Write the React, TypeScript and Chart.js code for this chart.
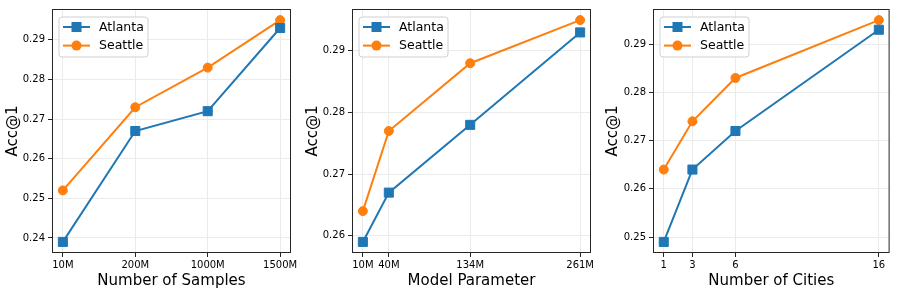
import React, { useEffect, useRef } from "react";
import { Chart, registerables } from "chart.js";

Chart.register(...registerables);

// ---- data ----
const seriesNames = ["Atlanta", "Seattle"];

const samplesLabels = ["10M", "200M", "1000M", "1500M"];
const samplesX = [0, 1, 2, 3];
const samplesAtlanta = [0.239, 0.267, 0.272, 0.293];
const samplesSeattle = [0.252, 0.273, 0.283, 0.295];
const samplesYTicks = [0.24, 0.25, 0.26, 0.27, 0.28, 0.29];

const paramLabels = ["10M", "40M", "134M", "261M"];
const paramX = [10, 40, 134, 261];
const paramAtlanta = [0.259, 0.267, 0.278, 0.293];
const paramSeattle = [0.264, 0.277, 0.288, 0.295];
const paramYTicks = [0.26, 0.27, 0.28, 0.29];

const citiesLabels = ["1", "3", "6", "16"];
const citiesX = [1, 3, 6, 16];
const citiesAtlanta = [0.249, 0.264, 0.272, 0.293];
const citiesSeattle = [0.264, 0.274, 0.283, 0.295];
const citiesYTicks = [0.25, 0.26, 0.27, 0.28, 0.29];

const BLUE = "#1f77b4";
const ORANGE = "#ff7f0e";
const FONT = "'DejaVu Sans', sans-serif";

function margin(vals: number[]) {
  const lo = Math.min(...vals);
  const hi = Math.max(...vals);
  const m = (hi - lo) * 0.05;
  return [lo - m, hi + m];
}

const framePlugin = {
  id: "frameLegend",
  afterDraw(chart: any) {
    const { ctx, chartArea } = chart;
    const { left, top, right, bottom } = chartArea;
    ctx.save();
    ctx.strokeStyle = "#262626";
    ctx.lineWidth = 1;
    ctx.strokeRect(left + 0.5, top + 0.5, right - left - 1, bottom - top - 1);

    // legend
    const bx = left + 7;
    const by = top + 8;
    const bw = 89;
    const bh = 40;
    const r = 3;
    ctx.beginPath();
    ctx.moveTo(bx + r, by);
    ctx.lineTo(bx + bw - r, by);
    ctx.quadraticCurveTo(bx + bw, by, bx + bw, by + r);
    ctx.lineTo(bx + bw, by + bh - r);
    ctx.quadraticCurveTo(bx + bw, by + bh, bx + bw - r, by + bh);
    ctx.lineTo(bx + r, by + bh);
    ctx.quadraticCurveTo(bx, by + bh, bx, by + bh - r);
    ctx.lineTo(bx, by + r);
    ctx.quadraticCurveTo(bx, by, bx + r, by);
    ctx.closePath();
    ctx.fillStyle = "rgba(255,255,255,0.8)";
    ctx.fill();
    ctx.strokeStyle = "#d0d0d0";
    ctx.stroke();

    chart.data.datasets.forEach((ds: any, i: number) => {
      const y = by + 10 + i * 18.6;
      ctx.strokeStyle = ds.borderColor;
      ctx.lineWidth = 2;
      ctx.beginPath();
      ctx.moveTo(bx + 4, y);
      ctx.lineTo(bx + 31, y);
      ctx.stroke();
      ctx.fillStyle = ds.borderColor;
      if (ds.pointStyle === "rect") {
        ctx.fillRect(bx + 17.5 - 5, y - 5, 10, 10);
      } else {
        ctx.beginPath();
        ctx.arc(bx + 17.5, y, 5, 0, Math.PI * 2);
        ctx.fill();
      }
      ctx.fillStyle = "#000";
      ctx.font = `12.5px ${FONT}`;
      ctx.textBaseline = "middle";
      ctx.textAlign = "left";
      ctx.fillText(ds.label, bx + 40, y + 0.5);
    });
    ctx.restore();
  },
};

type PanelProps = {
  width: number;
  xs: number[];
  labels: string[];
  a: number[];
  s: number[];
  yTicks: number[];
  xTitle: string;
  yAxisWidth: number;
  rightPad: number;
};

function Panel({ width, xs, labels, a, s, yTicks, xTitle, yAxisWidth, rightPad }: PanelProps) {
  const ref = useRef<HTMLCanvasElement>(null);
  useEffect(() => {
    if (!ref.current) return;
    const [xmin, xmax] = margin(xs);
    const [ymin, ymax] = margin([...a, ...s]);
    const mk = (vals: number[]) => vals.map((v, i) => ({ x: xs[i], y: v }));
    const chart = new Chart(ref.current, {
      type: "line",
      data: {
        datasets: [
          {
            label: seriesNames[0],
            data: mk(a),
            borderColor: BLUE,
            backgroundColor: BLUE,
            pointBackgroundColor: BLUE,
            pointBorderColor: BLUE,
            pointStyle: "rect",
            pointRadius: 6.4,
            pointBorderWidth: 1,
            borderWidth: 2,
            tension: 0,
          },
          {
            label: seriesNames[1],
            data: mk(s),
            borderColor: ORANGE,
            backgroundColor: ORANGE,
            pointBackgroundColor: ORANGE,
            pointBorderColor: ORANGE,
            pointStyle: "circle",
            pointRadius: 4.5,
            pointBorderWidth: 1,
            borderWidth: 2,
            tension: 0,
          },
        ],
      },
      options: {
        animation: false,
        responsive: false,
        events: [],
        layout: { padding: { left: 0, top: 5, right: rightPad, bottom: 0 } },
        plugins: { legend: { display: false }, tooltip: { enabled: false } },
        scales: {
          x: {
            type: "linear",
            min: xmin,
            max: xmax,
            afterBuildTicks: (scale: any) => {
              scale.ticks = xs.map((v) => ({ value: v }));
            },
            afterFit: (scale: any) => {
              scale.height = 41;
            },
            ticks: {
              autoSkip: false,
              maxRotation: 0,
              padding: 2,
              color: "#000",
              font: { family: FONT, size: 10 },
              callback: (v: any) => {
                const i = xs.indexOf(Number(v));
                return i >= 0 ? labels[i] : "";
              },
            },
            grid: {
              color: "#ebebeb",
              lineWidth: 1,
              drawTicks: true,
              tickLength: 4,
              tickColor: "#262626",
            },
            border: { display: false },
            title: {
              display: true,
              text: xTitle,
              color: "#000",
              font: { family: FONT, size: 15 },
              padding: { top: 0, bottom: 4 },
            },
          },
          y: {
            type: "linear",
            min: ymin,
            max: ymax,
            afterBuildTicks: (scale: any) => {
              scale.ticks = yTicks.map((v) => ({ value: v }));
            },
            afterFit: (scale: any) => {
              scale.width = yAxisWidth;
            },
            ticks: {
              padding: 3,
              color: "#000",
              font: { family: FONT, size: 10 },
              callback: (v: any) => Number(v).toFixed(2),
            },
            grid: {
              color: "#ebebeb",
              lineWidth: 1,
              drawTicks: true,
              tickLength: 4,
              tickColor: "#262626",
            },
            border: { display: false },
            title: {
              display: true,
              text: "Acc@1",
              color: "#000",
              font: { family: FONT, size: 15 },
              padding: { top: 4, bottom: 0 },
            },
          },
        },
      },
      plugins: [framePlugin],
    } as any);
    return () => chart.destroy();
  }, []);
  return <canvas ref={ref} width={width} height={294} style={{ display: "block", width, height: 294 }} />;
}

export default function App() {
  return (
    <div
      style={{
        position: "absolute",
        left: 0,
        top: 0,
        width: 897,
        height: 294,
        display: "flex",
        background: "#fff",
        overflow: "hidden",
      }}
    >
      <Panel width={300} xs={samplesX} labels={samplesLabels} a={samplesAtlanta} s={samplesSeattle}
        yTicks={samplesYTicks} xTitle="Number of Samples" yAxisWidth={52} rightPad={9} />
      <Panel width={300} xs={paramX} labels={paramLabels} a={paramAtlanta} s={paramSeattle}
        yTicks={paramYTicks} xTitle="Model Parameter" yAxisWidth={52} rightPad={9} />
      <Panel width={297} xs={citiesX} labels={citiesLabels} a={citiesAtlanta} s={citiesSeattle}
        yTicks={citiesYTicks} xTitle="Number of Cities" yAxisWidth={53} rightPad={6} />
    </div>
  );
}
